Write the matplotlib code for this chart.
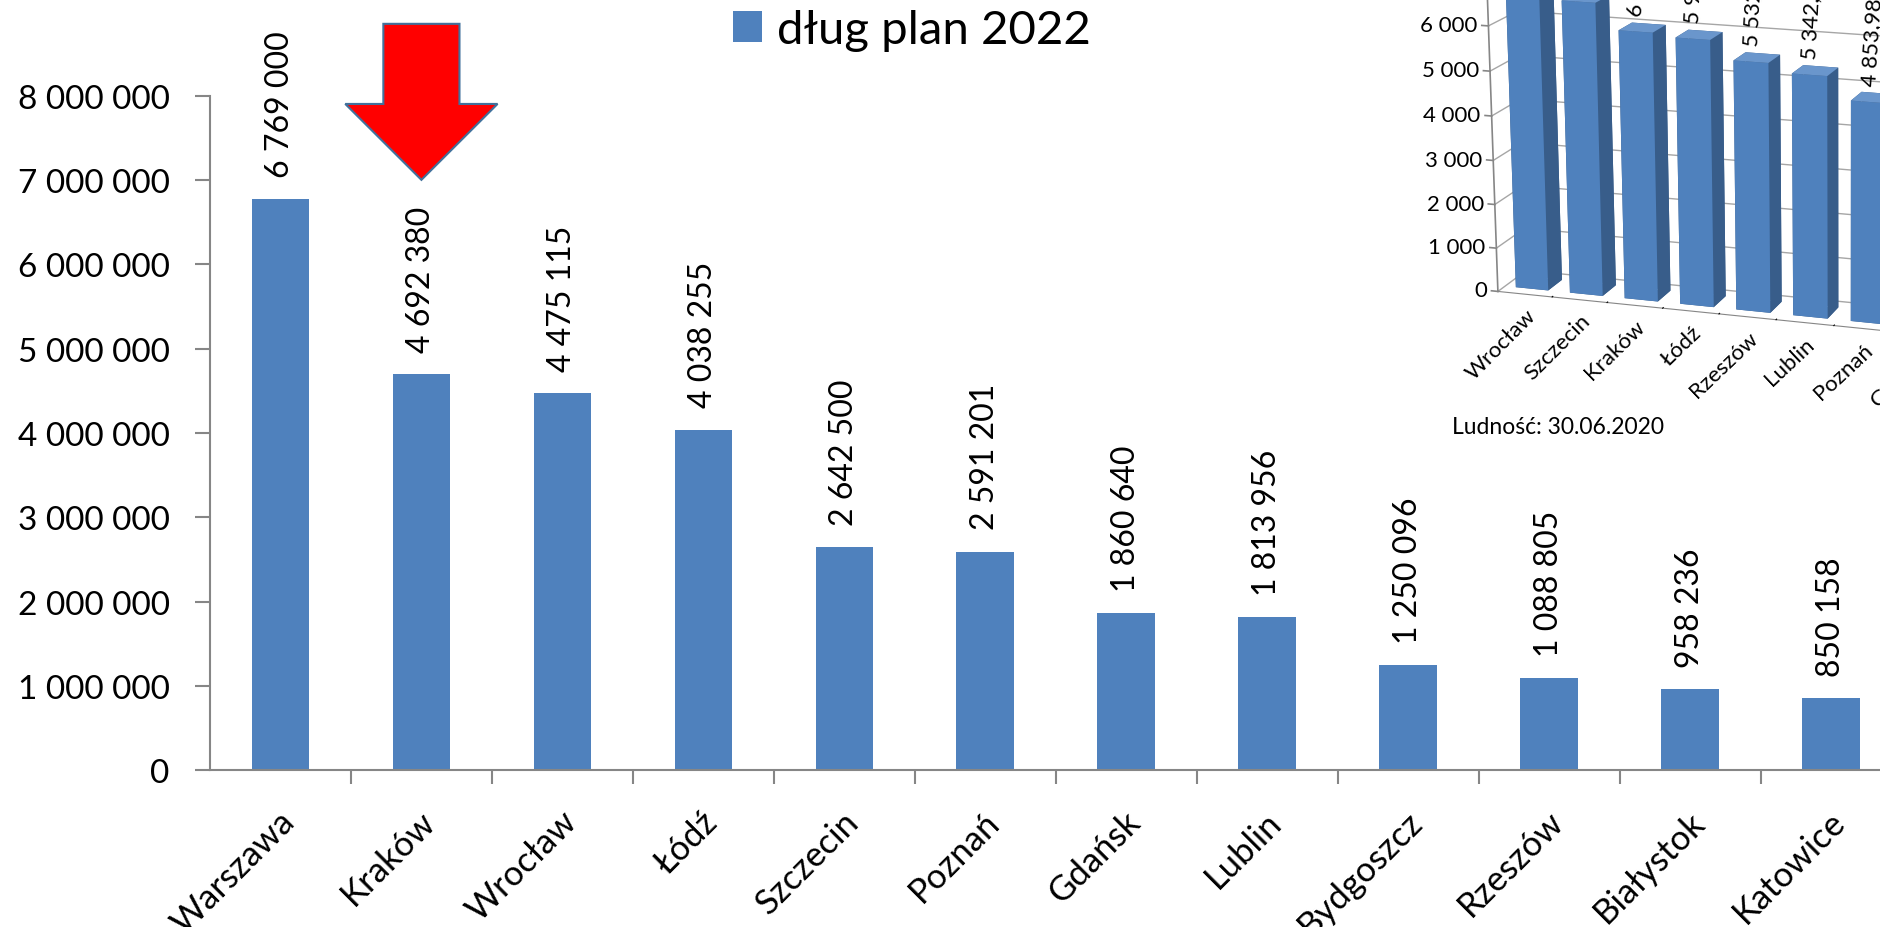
import numpy as np
import matplotlib.pyplot as plt
from matplotlib.ticker import FuncFormatter
from matplotlib.transforms import ScaledTranslation

plt.rcParams['font.family'] = ['Lato', 'DejaVu Sans']

# main chart: planned debt 2022 (thousand zł)
cities = ['Warszawa', 'Kraków', 'Wrocław', 'Łódź', 'Szczecin', 'Poznań',
          'Gdańsk', 'Lublin', 'Bydgoszcz', 'Rzeszów', 'Białystok', 'Katowice']
debt_2022 = [6769000, 4692380, 4475115, 4038255, 2642500, 2591201,
             1860640, 1813956, 1250096, 1088805, 958236, 850158]
y_ticks = [0, 1000000, 2000000, 3000000, 4000000, 5000000, 6000000, 7000000, 8000000]

# inset: debt per resident (population 30.06.2020)
inset_cities = ['Wrocław', 'Szczecin', 'Kraków', 'Łódź', 'Rzeszów', 'Lublin', 'Poznań', 'Gdańsk']
debt_per_capita = [6961.52, 6575.13, 6009.67, 5939.14, 5532.17, 5342.21, 4853.98, 3953.40]
inset_ticks = [0, 1000, 2000, 3000, 4000, 5000, 6000]

BLUE = '#4F81BD'
GREY = '#868686'


def pl_fmt(v, decimals=0):
    s = f'{v:,.{decimals}f}'
    return s.replace(',', ' ').replace('.', ',')


fig = plt.figure(figsize=(18.81, 9.28), dpi=100)

# ---- main bar chart ----
ax = fig.add_axes([0.1116, 0.169, 0.8995, 0.727])
x = np.arange(len(cities))
bars = ax.bar(x, debt_2022, width=0.41, color=BLUE, label='dług plan 2022')
ax.set_xlim(-0.5, len(cities) - 0.5)
ax.set_ylim(0, 8000000)
ax.set_yticks(y_ticks)
ax.yaxis.set_major_formatter(FuncFormatter(lambda v, p: pl_fmt(v)))
ax.tick_params(axis='y', length=11, width=1.5, color=GREY, pad=18, labelsize=24)

ax.set_xticks(x)
ax.set_xticklabels(cities, rotation=45, ha='right', va='center',
                   rotation_mode='anchor', fontsize=25)
ax.tick_params(axis='x', which='major', length=0, pad=33)
shift = ScaledTranslation(9 / 100, 0, fig.dpi_scale_trans)
for lbl in ax.get_xticklabels():
    lbl.set_transform(lbl.get_transform() + shift)
ax.set_xticks(x + 0.5, minor=True)
ax.tick_params(axis='x', which='minor', length=10, width=1.5, color=GREY)

for side in ['top', 'right']:
    ax.spines[side].set_visible(False)
for side in ['left', 'bottom']:
    ax.spines[side].set_color(GREY)
    ax.spines[side].set_linewidth(1.5)

for xi, v in zip(x, debt_2022):
    ax.annotate(pl_fmt(v), (xi, v), xytext=(0, 16), textcoords='offset points',
                rotation=90, ha='center', va='bottom', fontsize=23, annotation_clip=False)

ax.legend(loc='center left', bbox_to_anchor=(733 / 1881, 1 - 31 / 928),
          bbox_transform=fig.transFigure, frameon=False, fontsize=34,
          handlelength=0.62, handleheight=0.62, handletextpad=0.32,
          borderpad=0, borderaxespad=0)

# red arrow pointing at Kraków
k = cities.index('Kraków')
ax.arrow(k, 8850000, 0, -1850000, width=0.54, head_width=1.08, head_length=900000,
         length_includes_head=True, fc='#FF0000', ec='#41719C', lw=1.5,
         clip_on=False, zorder=5)

# ---- 3D inset (cropped at the top right) ----
ax3 = fig.add_axes([0.758, 0.412, 0.4335, 0.88], projection='3d')
ax3.set_facecolor('none')
xi3 = np.arange(len(inset_cities))
faces = []
for _ in inset_cities:
    # bottom, top, front, back, left, right
    faces += ['#385D8A', '#6A96CC', BLUE, '#385D8A', '#385D8A', '#385D8A']
ax3.bar3d(xi3 + 0.2, 0.25, 0, 0.6, 0.5, debt_per_capita, color=faces, shade=False)
zmax = 8400
ax3.set_xlim(0, 12)
ax3.set_ylim(0, 1)
ax3.set_zlim(0, zmax)
ax3.set_box_aspect((12, 1.2, 6.5))
ax3.view_init(elev=15, azim=-73)
ax3.set_proj_type('persp', focal_length=0.6)

ax3.set_zticks(inset_ticks)
ax3.set_zticklabels([])
ax3.set_xticks(np.arange(1, 12))
ax3.set_xticklabels([])
ax3.set_yticks([])
for a in (ax3.xaxis, ax3.yaxis, ax3.zaxis):
    a.set_pane_color((1, 1, 1, 1))
    a._axinfo['tick']['inward_factor'] = 0
    a._axinfo['tick']['outward_factor'] = 0.3
    a._axinfo['grid']['color'] = (1, 1, 1, 0)
ax3.zaxis._axinfo['tick']['outward_factor'] = 0
ax3.zaxis._axinfo['grid']['color'] = '#A6A6A6'
ax3.zaxis._axinfo['grid']['linewidth'] = 1.0
ax3.xaxis.line.set_color(GREY)
ax3.zaxis.line.set_color((1, 1, 1, 0))
ax3.yaxis.line.set_color((1, 1, 1, 0))

# vertical axis of the inset on the front-left edge
ax3.plot([0, 0], [0, 0], [0, zmax], color=GREY, lw=1.2)
for t in inset_ticks:
    ax3.plot([-0.12, 0], [0, 0], [t, t], color=GREY, lw=1.2)
    ax3.text(-0.2, 0, t, pl_fmt(t), zdir=None, ha='right', va='center', fontsize=16)

for i, (name, v) in enumerate(zip(inset_cities, debt_per_capita)):
    ax3.text(i + 0.5, 0, -250, name, zdir=(1, 0, 1350), ha='right', va='top',
             rotation_mode='anchor', fontsize=16)
    ax3.text(i + 0.5, 0.25, v + 350, pl_fmt(v, 2), zdir=(0.05, 0, 1000), ha='left',
             va='center', rotation_mode='anchor', fontsize=16)

fig.text(1452 / 1881, 1 - 428 / 928, 'Ludność: 30.06.2020', va='center', fontsize=16.5)

fig.savefig('out.png', dpi=100)
